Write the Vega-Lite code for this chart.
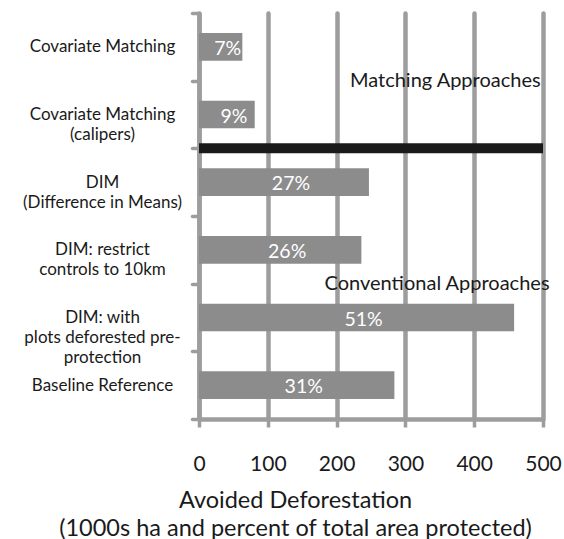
{
  "$schema": "https://vega.github.io/schema/vega-lite/v6.json",
  "autosize": "none",
  "padding": {"left": 199, "top": 13, "right": 21, "bottom": 120},
  "width": 344,
  "height": 406,
  "background": "white",
  "config": {"view": {"stroke": null}, "font": "Lato"},
  "datasets": {
    "bars": [
      {"method": "Covariate Matching", "avoided": 63, "pct": "7%"},
      {"method": "Covariate Matching\n(calipers)", "avoided": 81, "pct": "9%"},
      {"method": "DIM\n(Difference in Means)", "avoided": 247, "pct": "27%"},
      {"method": "DIM: restrict\ncontrols to 10km", "avoided": 236, "pct": "26%"},
      {"method": "DIM: with\nplots deforested pre-\nprotection", "avoided": 458, "pct": "51%"},
      {"method": "Baseline Reference", "avoided": 284, "pct": "31%"}
    ],
    "sep": [
      {"from": 0, "to": 500, "method": "DIM\n(Difference in Means)"}
    ],
    "notes": [
      {"note": "Matching Approaches", "at": 358, "method": "Covariate Matching\n(calipers)"},
      {"note": "Conventional Approaches", "at": 346, "method": "DIM: with\nplots deforested pre-\nprotection"}
    ]
  },
  "encoding": {
    "y": {
      "field": "method", "type": "nominal",
      "scale": {
        "domain": ["Covariate Matching", "Covariate Matching\n(calipers)", "DIM\n(Difference in Means)", "DIM: restrict\ncontrols to 10km", "DIM: with\nplots deforested pre-\nprotection", "Baseline Reference"],
        "paddingInner": 0, "paddingOuter": 0
      },
      "axis": {
        "title": null,
        "domain": true, "domainColor": "#9d9d9d", "domainWidth": 4.5,
        "ticks": true, "tickBand": "extent", "tickSize": 7, "tickColor": "#9d9d9d", "tickWidth": 3.5, "tickCap": "round",
        "labelExpr": "split(datum.label, '\\n')",
        "labelAlign": "center", "labelBaseline": "middle", "labelPadding": 90,
        "labelFontSize": 17, "labelLineHeight": 20, "labelColor": "#1a1a1a", "labelLimit": 0, "labelFont": "Lato",
        "encode": {
          "labels": {
            "dx": {"signal": "indexof(datum.value, 'Difference') >= 0 ? -13 : indexof(datum.value, 'restrict') >= 0 ? 9 : indexof(datum.value, 'with') >= 0 ? -6 : 0"}
          }
        }
      }
    }
  },
  "layer": [
    {
      "layer": [
        {
          "data": {"name": "bars"},
          "mark": {"type": "bar", "color": "#8c8c8c", "height": {"band": 0.41}},
          "encoding": {
            "x": {
              "field": "avoided", "type": "quantitative",
              "scale": {"domain": [0, 500], "nice": false},
              "axis": {
                "title": ["Avoided Deforestation", "(1000s ha and percent of total  area protected)"],
                "values": [0, 100, 200, 300, 400, 500],
                "grid": true, "gridColor": "#9d9d9d", "gridWidth": 4.5, "gridCap": "round",
                "domainColor": "#9d9d9d", "domainWidth": 4.5,
                "tickColor": "#9d9d9d", "tickSize": 8, "tickWidth": 3.5,
                "labelFontSize": 21, "labelPadding": 26, "labelColor": "#1a1a1a", "labelFlush": false, "labelFont": "Lato",
                "titleFontSize": 23.5, "titleFontWeight": "normal", "titleColor": "#1a1a1a", "titleFont": "Lato",
                "titleX": 96, "titleY": 69, "titleBaseline": "top", "titleAlign": "center", "titleLineHeight": 28
              }
            }
          }
        },
        {
          "data": {"name": "sep"},
          "mark": {"type": "rule", "color": "#1a1a1a", "strokeWidth": 10, "strokeCap": "butt"},
          "encoding": {
            "y": {"field": "method", "type": "nominal", "bandPosition": 0},
            "x": {"field": "from", "type": "quantitative"},
            "x2": {"field": "to"}
          }
        },
        {
          "data": {"name": "notes"},
          "mark": {"type": "text", "fontSize": 20, "color": "#1a1a1a", "font": "Lato", "baseline": "middle"},
          "encoding": {
            "y": {"field": "method", "type": "nominal", "bandPosition": 0},
            "x": {"field": "at", "type": "quantitative"},
            "text": {"field": "note"}
          }
        }
      ]
    },
    {
      "data": {"name": "bars"},
      "mark": {"type": "text", "color": "white", "fontSize": 19.5, "font": "Lato", "dx": 7, "dy": 2, "baseline": "middle"},
      "encoding": {
        "x": {"field": "avoided", "type": "quantitative", "scale": {"domain": [0, 1000], "nice": false}, "axis": null},
        "text": {"field": "pct"}
      }
    }
  ],
  "resolve": {"scale": {"x": "independent"}}
}
